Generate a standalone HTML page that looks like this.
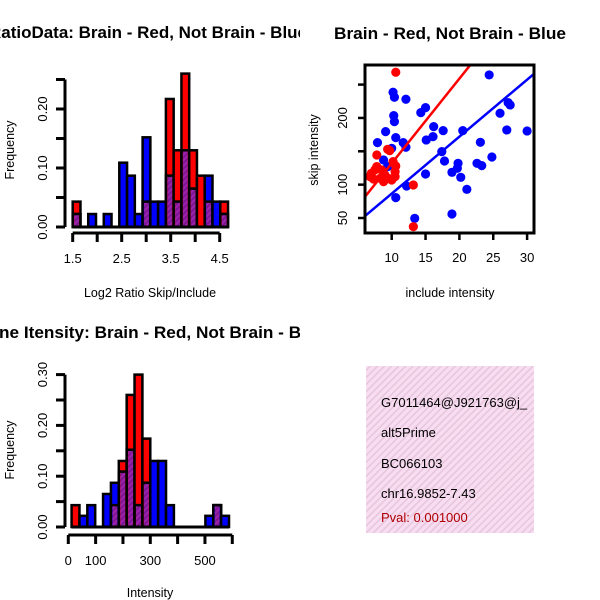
<!DOCTYPE html>
<html><head><meta charset="utf-8"><style>
html,body{margin:0;padding:0;background:#fff;}
svg{display:block;font-family:"Liberation Sans",Arial,sans-serif;}
</style></head><body>
<svg id="chart" width="600" height="600" viewBox="0 0 600 600" xmlns="http://www.w3.org/2000/svg">
<defs>
<pattern id="purpleHatch" patternUnits="userSpaceOnUse" width="4" height="4" patternTransform="rotate(45)">
<rect width="4" height="4" fill="#a020b0"/><rect width="2" height="4" fill="#7a1890"/>
</pattern>
<pattern id="pinkHatch" patternUnits="userSpaceOnUse" width="5" height="5" patternTransform="rotate(45)">
<rect width="5" height="5" fill="#f8dcf2"/><rect width="1.5" height="5" fill="#e6c6da"/>
</pattern>
<clipPath id="clipLeftTop"><rect x="0" y="0" width="300" height="300"/></clipPath>
<clipPath id="clipLeftBot"><rect x="0" y="300" width="300" height="300"/></clipPath>
<clipPath id="clipScatter"><rect x="365" y="65" width="169" height="168"/></clipPath>
</defs>
<g id="p1" clip-path="url(#clipLeftTop)">
<text x="-11" y="38" font-size="16.5" font-weight="bold" textLength="318" lengthAdjust="spacingAndGlyphs">RatioData: Brain - Red, Not Brain - Blue</text>
</g>
<g id="p3" clip-path="url(#clipLeftBot)">
<text x="-24" y="338" font-size="16.5" font-weight="bold" textLength="350" lengthAdjust="spacingAndGlyphs">Gene Itensity: Brain - Red, Not Brain - Blue</text>
</g>
<g id="p2">
<text x="334" y="39" font-size="16.5" font-weight="bold" textLength="232" lengthAdjust="spacingAndGlyphs">Brain - Red, Not Brain - Blue</text>
</g>
<g>
<rect x="366" y="366" width="168" height="167" fill="url(#pinkHatch)"/>
<text x="381" y="407" font-size="13">G7011464@J921763@j_</text>
<text x="381" y="437" font-size="13">alt5Prime</text>
<text x="381" y="468" font-size="13">BC066103</text>
<text x="381" y="498" font-size="13">chr16.9852-7.43</text>
<text x="381" y="522" font-size="13" fill="#b00000">Pval: 0.001000</text>
</g>
</svg>
<script>
// ---- Histogram 1 data (Log2 ratio) ----
const ratioBinStart = 1.5;
const ratioBinWidth = 0.1585;
const ratioRed  = [0.043,0,0,0,0,0,0,0,0,0.043,0,0,0.217,0.13,0.26,0.13,0.087,0.043,0,0.043];
const ratioBlue = [0.022,0,0.022,0,0.022,0,0.109,0.087,0.022,0.152,0.043,0.043,0.087,0.043,0.13,0.065,0,0.087,0.043,0.022];
const ratioXTicks = [1.5,2.5,3.5,4.5];
const ratioXTickMarks = [1.5,2,2.5,3,3.5,4,4.5];
const ratioYTicks = [0,0.05,0.10,0.15,0.20,0.25];
const ratioYLabels = ["0.00","","0.10","","0.20",""];

// ---- Histogram 2 data (Intensity) ----
const intBinStart = 12;
const intBinWidth = 28.8;
const intRed  = [0.043,0,0,0,0,0.043,0.13,0.26,0.30,0.174,0,0,0,0,0,0,0,0,0.043,0];
const intBlue = [0,0.022,0.043,0,0.065,0.087,0.109,0.152,0.043,0.087,0.13,0.13,0.043,0,0,0,0,0.022,0.043,0.022];
const intXTicks = [0,100,300,500];
const intXTickMarks = [0,100,200,300,400,500,600];
const intYTicks = [0,0.05,0.10,0.15,0.20,0.25,0.30];
const intYLabels = ["0.00","","0.10","","0.20","","0.30"];

// ---- Scatter data ----
const blueX = [24.4,10.2,10.4,12.1,15.0,14.3,10.3,10.4,9.1,16.2,17.6,20.5,15.1,16.1,10.6,7.9,11.7,12.1,10,23.1,17.4,17.8,19.8,19.7,8.8,9.4,9.1,18.9,20.2,15,22.6,23.3,24.8,26.0,27.0,27.2,27.5,30.0,21.1,10.6,12.2,13.4,18.9];
const blueY = [264.5,238.5,231,228,215.5,208,203.5,194.5,179.5,187,181,181,167,172,170.5,163,163,156,154.5,163.5,149.5,135.5,132,124.5,137,127,111,118.5,111,116,132,128.5,141.5,207,182,223,219.5,180.5,93,80.5,98,49.5,56];
const redX = [10.6,7.8,9.4,9.7,7.0,7.3,7.8,8.5,9.0,9.5,10,10.5,10.2,10.6,8.3,8.8,6.8,13.2,13.2,7.5,10.5];
const redY = [268.5,144.5,153,151,117,108.5,127,122,114.5,109.5,107,112,134.5,128,109.5,104.5,112,99.5,37,122,119.5];
const blueFit = [1.2, 8.54];
const redFit = [5.0, 12.7];
const scXTicks = [10,15,20,25,30];
const scYTicks = [50,100,150,200,250];
const scYLabels = ["50","100","","200",""];

const NS = "http://www.w3.org/2000/svg";
function mk(parent, tag, attrs){ const e=document.createElementNS(NS,tag); for(const k in attrs) e.setAttribute(k,attrs[k]); parent.appendChild(e); return e; }

function drawHist(g, o){
  const xs = v => o.x0px + (v - o.xmin) * o.pxPerX;
  const ys = v => o.y0px - v * o.pxPerY;
  for(let i=0;i<o.red.length;i++){
    const a = o.binStart + i*o.binWidth, b = a + o.binWidth;
    const r=o.red[i], bl=o.blue[i];
    const x1=xs(a), x2=xs(b);
    if(r>0){
      const e=mk(g,"rect",{x:x1,y:ys(r),width:x2-x1,height:ys(0)-ys(r),fill:"#ff0000",stroke:"#000","stroke-width":2.5});
      
      
    }
    if(bl>0){
      const e=mk(g,"rect",{x:x1,y:ys(bl),width:x2-x1,height:ys(0)-ys(bl),fill:"#0000ff",stroke:"#000","stroke-width":2.5,"fill-opacity":r>bl?0:1});
      
      
    }
    if(r>0 && bl>0){
      const m=Math.min(r,bl);
      const e=mk(g,"rect",{x:x1+1.5,y:ys(m),width:x2-x1-3,height:ys(0)-ys(m)-1,fill:"url(#purpleHatch)"});
      
      
      const t=mk(g,"line",{x1:x1,x2:x2,y1:ys(m),y2:ys(m),stroke:"#000","stroke-width":2.5});
      
      
    }
  }
  const bl=mk(g,"line",{x1:xs(o.binStart),x2:xs(o.binStart+o.red.length*o.binWidth),y1:o.y0px,y2:o.y0px,stroke:"#000","stroke-width":3});
  
  
  const yt=o.yTicks;
  const ya=mk(g,"line",{x1:o.yAxisX,x2:o.yAxisX,y1:ys(yt[0]),y2:ys(yt[yt.length-1]),stroke:"#000","stroke-width":3});
  
  
  yt.forEach((v,i)=>{
    const t=mk(g,"line",{x1:o.yAxisX-9,x2:o.yAxisX,y1:ys(v),y2:ys(v),stroke:"#000","stroke-width":3});
    
    
    if(o.yLabels[i]){
      const l=mk(g,"text",{x:0,y:0,"font-size":13,"text-anchor":"middle",transform:`translate(${o.yAxisX-18},${ys(v)}) rotate(-90)`});
      l.textContent=o.yLabels[i];
      
      
    }
  });
  const xm=o.xTickMarks;
  const xa=mk(g,"line",{x1:xs(xm[0]),x2:xs(xm[xm.length-1]),y1:o.xAxisY,y2:o.xAxisY,stroke:"#000","stroke-width":3});
  
  
  xm.forEach(v=>{
    const t=mk(g,"line",{x1:xs(v),x2:xs(v),y1:o.xAxisY,y2:o.xAxisY+9,stroke:"#000","stroke-width":3});
    
    
  });
  o.xTicks.forEach(v=>{
    const l=mk(g,"text",{x:xs(v),y:o.xAxisY+30,"font-size":13,"text-anchor":"middle"});
    l.textContent=String(v);
    
    
  });
  const xl=mk(g,"text",{x:150,y:o.xTitleY,"font-size":12.5,"text-anchor":"middle"});
  xl.textContent=o.xTitle;
  
  
  const yl=mk(g,"text",{x:0,y:0,"font-size":12.5,"text-anchor":"middle",transform:`translate(14,${o.yTitleY}) rotate(-90)`});
  yl.textContent="Frequency";
  
  
}

drawHist(document.getElementById("p1"),{
  red:ratioRed, blue:ratioBlue, binStart:ratioBinStart, binWidth:ratioBinWidth,
  xmin:1.5, x0px:72.7, pxPerX:49, y0px:227, pxPerY:590,
  yTicks:ratioYTicks, yLabels:ratioYLabels, yAxisX:65,
  xTicks:ratioXTicks, xTickMarks:ratioXTickMarks, xAxisY:233,
  xTitle:"Log2 Ratio Skip/Include", xTitleY:297, yTitleY:150
});
drawHist(document.getElementById("p3"),{
  red:intRed, blue:intBlue, binStart:intBinStart, binWidth:intBinWidth,
  xmin:0, x0px:68.3, pxPerX:0.2733, y0px:527, pxPerY:508,
  yTicks:intYTicks, yLabels:intYLabels, yAxisX:65,
  xTicks:intXTicks, xTickMarks:intXTickMarks, xAxisY:535,
  xTitle:"Intensity", xTitleY:597, yTitleY:450
});

(function(){
  const g=document.getElementById("p2");
  const xs=v=>391.7+(v-10)*6.77;
  const ys=v=>218-(v-50)*0.667;
  const pg=mk(g,"g",{"clip-path":"url(#clipScatter)"});
  
  
  for(let i=0;i<blueX.length;i++){
    const c=mk(pg,"circle",{cx:xs(blueX[i]),cy:ys(blueY[i]),r:4.6,fill:"#0000ff"});
    
    
  }
  for(let i=0;i<redX.length;i++){
    const c=mk(pg,"circle",{cx:xs(redX[i]),cy:ys(redY[i]),r:4.6,fill:"#ff0000"});
    
    
  }
  const xa=5, xb=32;
  const bl=mk(pg,"line",{x1:xs(xa),y1:ys(blueFit[0]+blueFit[1]*xa),x2:xs(xb),y2:ys(blueFit[0]+blueFit[1]*xb),stroke:"#0000ff","stroke-width":2.5});
  
  
  const rl=mk(pg,"line",{x1:xs(xa),y1:ys(redFit[0]+redFit[1]*xa),x2:xs(xb),y2:ys(redFit[0]+redFit[1]*xb),stroke:"#ff0000","stroke-width":2.5});
  
  
  const box=mk(g,"rect",{x:365,y:65,width:169,height:168,fill:"none",stroke:"#000","stroke-width":3});
  
  
  scXTicks.forEach(v=>{
    const t=mk(g,"line",{x1:xs(v),x2:xs(v),y1:233,y2:240,stroke:"#000","stroke-width":2.5});
    
    
    const l=mk(g,"text",{x:xs(v),y:262,"font-size":13,"text-anchor":"middle"});
    l.textContent=String(v);
    
    
  });
  scYTicks.forEach((v,i)=>{
    const t=mk(g,"line",{x1:358,x2:365,y1:ys(v),y2:ys(v),stroke:"#000","stroke-width":2.5});
    
    
    if(scYLabels[i]){
      const l=mk(g,"text",{x:0,y:0,"font-size":13,"text-anchor":"middle",transform:`translate(347,${ys(v)}) rotate(-90)`});
      l.textContent=scYLabels[i];
      
      
    }
  });
  const xl=mk(g,"text",{x:450,y:297,"font-size":12.5,"text-anchor":"middle"});
  xl.textContent="include intensity";
  
  
  const yl=mk(g,"text",{x:0,y:0,"font-size":12.5,"text-anchor":"middle",transform:"translate(318,150) rotate(-90)"});
  yl.textContent="skip intensity";
  
  
})();
</script>
</body></html>
